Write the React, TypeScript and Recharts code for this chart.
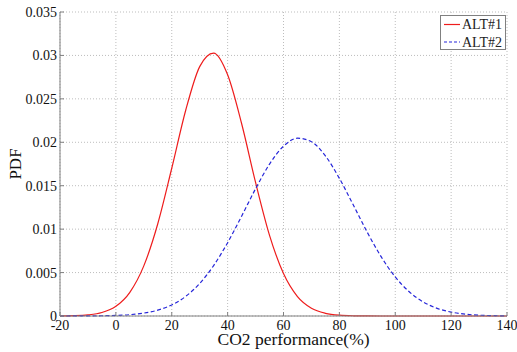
import {
  LineChart,
  Line,
  XAxis,
  YAxis,
  CartesianGrid,
  Legend,
} from "recharts";

// values, step of 5 on the x axis
const xs = [
  -20, -15, -10, -5, 0, 5, 10, 15, 20, 25, 30, 35, 40, 45, 50, 55, 60, 65, 70,
  75, 80, 85, 90, 95, 100, 105, 110, 115, 120, 125, 130, 135, 140,
];
const alt1 = [
  0.000008, 0.000034, 0.000125, 0.0004, 0.00112, 0.00273, 0.00577, 0.01062,
  0.01701, 0.02369, 0.02871, 0.03027, 0.02777, 0.02216, 0.01538, 0.00929,
  0.00488, 0.00223, 0.00089, 0.00031, 0.00009, 0.000024, 0.000006, 0.000001, 0,
  0, 0, 0, 0, 0, 0, 0, 0,
];
const alt2 = [
  0.000001, 0.000004, 0.00001, 0.000028, 0.000068, 0.000155, 0.000335,
  0.000675, 0.001275, 0.00226, 0.00374, 0.00581, 0.00844, 0.01149, 0.01465,
  0.01749, 0.01955, 0.02047, 0.02007, 0.01843, 0.01585, 0.01277, 0.00963,
  0.0068, 0.0045, 0.00279, 0.00162, 0.00088, 0.00045, 0.00021, 0.000095,
  0.00004, 0.000016,
];
const xTicks = [-20, 0, 20, 40, 60, 80, 100, 120, 140];
const yTicks = [0, 0.005, 0.01, 0.015, 0.02, 0.025, 0.03, 0.035];
const names = ["ALT#1", "ALT#2"];

const data = xs.map((x, i) => ({ x, alt1: alt1[i], alt2: alt2[i] }));

const FONT = "'Liberation Serif', 'Times New Roman', serif";
const BOX = "#808080";
const RED = "#ee1c1c";
const BLUE = "#2626d9";

const LeftTick = (props: any) => {
  const { x, y, payload } = props;
  return (
    <g>
      <line x1={x + 3} x2={x + 7} y1={y} y2={y} stroke={BOX} />
      <text x={x} y={y} dy={5} textAnchor="end" fontSize={14} fontFamily={FONT} fill="#111">
        {String(payload.value)}
      </text>
    </g>
  );
};

const BottomTick = (props: any) => {
  const { x, y, payload } = props;
  return (
    <g>
      <line x1={x} x2={x} y1={y - 4} y2={y - 8} stroke={BOX} />
      <text x={x} y={y} dy={9.5} textAnchor="middle" fontSize={14} fontFamily={FONT} fill="#111">
        {String(payload.value)}
      </text>
    </g>
  );
};

const TopTick = (props: any) => (
  <line x1={props.x} x2={props.x} y1={props.y} y2={props.y + 4} stroke={BOX} />
);

const RightTick = (props: any) => (
  <line x1={props.x - 4} x2={props.x} y1={props.y} y2={props.y} stroke={BOX} />
);

const LegendBox = () => (
  <svg width={66} height={35} style={{ display: "block" }}>
    <rect x={0.5} y={0.5} width={65} height={34} fill="#fff" stroke={BOX} />
    <line x1={4} x2={20} y1={9.5} y2={9.5} stroke={RED} strokeWidth={1.2} />
    <text x={22} y={14} fontSize={14} fontFamily={FONT} fill="#222">
      {names[0]}
    </text>
    <line x1={4} x2={20} y1={27} y2={27} stroke={BLUE} strokeWidth={1.2} strokeDasharray="3 2" />
    <text x={22} y={31.5} fontSize={14} fontFamily={FONT} fill="#222">
      {names[1]}
    </text>
  </svg>
);

export default function App() {
  return (
    <div style={{ position: "absolute", left: 0, top: 0, width: 517, height: 352, background: "#fff" }}>
      <LineChart
        width={517}
        height={352}
        data={data}
        margin={{ top: 12, right: 10, left: 0, bottom: 0 }}
      >
        <CartesianGrid stroke="#bdbdbd" strokeDasharray="1 2" />
        <XAxis
          dataKey="x"
          type="number"
          domain={[-20, 140]}
          ticks={xTicks}
          interval={0}
          height={36}
          tickSize={0}
          tickMargin={4}
          tick={<BottomTick />}
          axisLine={{ stroke: BOX }}
          label={{
            content: (p: any) => (
              <text
                x={p.viewBox.x + p.viewBox.width / 2 + 10}
                y={p.viewBox.y + 28.5}
                textAnchor="middle"
                fontSize={17.5}
                fontFamily={FONT}
                fill="#111"
              >
                CO2 performance(%)
              </text>
            ),
          }}
        />
        <XAxis
          xAxisId="top"
          orientation="top"
          dataKey="x"
          type="number"
          domain={[-20, 140]}
          ticks={xTicks}
          interval={0}
          height={0}
          tickSize={0}
          tickMargin={0}
          tick={<TopTick />}
          axisLine={{ stroke: BOX }}
        />
        <YAxis
          type="number"
          domain={[0, 0.035]}
          ticks={yTicks}
          interval={0}
          width={60}
          tickSize={0}
          tickMargin={3}
          tick={<LeftTick />}
          axisLine={{ stroke: BOX }}
          label={{
            content: (p: any) => (
              <text
                x={15}
                y={p.viewBox.y + p.viewBox.height / 2}
                transform={`rotate(-90 15 ${p.viewBox.y + p.viewBox.height / 2})`}
                textAnchor="middle"
                dominantBaseline="central"
                fontSize={17}
                fontFamily={FONT}
                fill="#111"
              >
                PDF
              </text>
            ),
          }}
        />
        <YAxis
          yAxisId="right"
          orientation="right"
          type="number"
          domain={[0, 0.035]}
          ticks={yTicks}
          interval={0}
          width={0}
          tickSize={0}
          tickMargin={0}
          tick={<RightTick />}
          axisLine={{ stroke: BOX }}
        />
        <Legend
          layout="vertical"
          align="center"
          verticalAlign="middle"
          content={() => <LegendBox />}
          wrapperStyle={{ top: 15, left: 440, width: 66, height: 35 }}
        />
        <Line
          type="monotone"
          dataKey="alt1"
          name={names[0]}
          stroke={RED}
          strokeWidth={1.2}
          dot={false}
          isAnimationActive={false}
        />
        <Line
          type="monotone"
          dataKey="alt2"
          name={names[1]}
          stroke={BLUE}
          strokeWidth={1.2}
          strokeDasharray="4 2.5"
          dot={false}
          isAnimationActive={false}
        />
      </LineChart>
    </div>
  );
}
